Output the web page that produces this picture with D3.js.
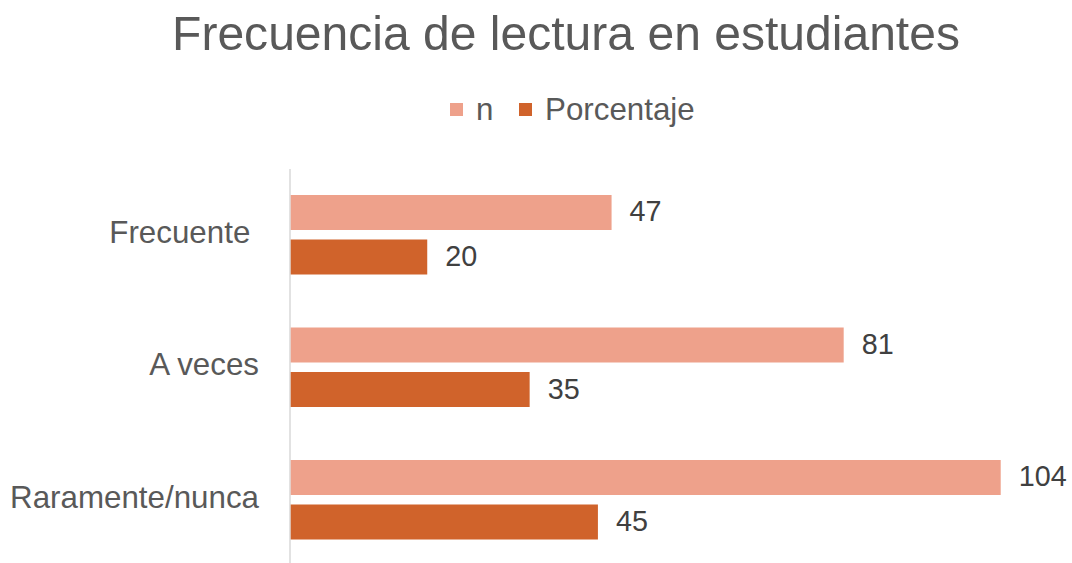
<!DOCTYPE html>
<html><head><meta charset="utf-8">
<script src="https://cdn.jsdelivr.net/npm/d3@7"></script>
<style>
html,body{margin:0;padding:0;background:#fff;}
svg{display:block;font-family:"Liberation Sans",Arial,sans-serif;}
</style></head>
<body>
<svg id="chart" width="1072" height="563"></svg>
<script>
const categories = ["Frecuente ", "A veces", "Raramente/nunca"];
const seriesNames = ["n", "Porcentaje"];
const nValues = [47, 81, 104];
const pctValues = [20, 35, 45];
const colors = ["#EEA18B", "#D0632B"];
const titleText = "Frecuencia de lectura en estudiantes";

const svg = d3.select("#chart");

function fit(sel, targetW, baseSize) {
  sel.attr("font-size", baseSize);
  const w = sel.node().getComputedTextLength();
  sel.attr("font-size", baseSize * targetW / w);
}

// Title
const title = svg.append("text").attr("x", 566).attr("y", 50)
  .attr("text-anchor", "middle").attr("fill", "#595959").text(titleText);
fit(title, 788, 40);

// Scales
const x = d3.scaleLinear().domain([0, 120]).range([290.7, 290.7 + 120 * 6.827]);
const y = d3.scaleBand().domain(categories).range([168.5, 566]).padding(0);
const y1 = d3.scaleBand().domain(seriesNames)
  .range([(y.bandwidth() - 79.5) / 2, (y.bandwidth() + 79.5) / 2])
  .paddingInner(0.2135).paddingOuter(0);

const data = categories.map((c, i) => ({cat: c, vals: [
  {s: "n", v: nValues[i]}, {s: "Porcentaje", v: pctValues[i]}]}));

const color = d3.scaleOrdinal().domain(seriesNames).range(colors);

// Axis line
svg.append("line").attr("x1", 290).attr("x2", 290).attr("y1", 169).attr("y2", 566)
  .attr("stroke", "#d9d9d9").attr("stroke-width", 1.5);

const g = svg.selectAll("g.cat").data(data).join("g").attr("class", "cat")
  .attr("transform", d => `translate(0,${y(d.cat)})`);

g.selectAll("rect").data(d => d.vals).join("rect")
  .attr("x", x(0)).attr("y", d => y1(d.s))
  .attr("width", d => x(d.v) - x(0)).attr("height", y1.bandwidth())
  .attr("fill", d => color(d.s));

const vl = g.selectAll("text.val").data(d => d.vals).join("text").attr("class", "val")
  .attr("x", d => x(d.v) + 18).attr("y", d => y1(d.s) + y1.bandwidth() / 2 + 9)
  .attr("fill", "#404040").attr("font-size", 26).text(d => d.v);
const w104 = vl.filter(d => d.v === 104).node().getComputedTextLength();
vl.attr("font-size", 26 * 48 / w104);

// Category labels
const cl = svg.selectAll("text.cat").data(categories).join("text").attr("class", "cat")
  .attr("x", 259).attr("y", d => y(d) + y.bandwidth() / 2 + 8)
  .attr("text-anchor", "end").attr("fill", "#595959")
  .style("white-space", "pre").text(d => d);
cl.attr("font-size", 26);
const rw = cl.filter(d => d === "Raramente/nunca").node().getComputedTextLength();
const cs = 26 * 249 / rw;
cl.attr("font-size", cs);

// Legend
const leg = svg.append("g");
const items = leg.selectAll("g").data(seriesNames).join("g");
items.append("rect").attr("width", 13).attr("height", 13).attr("y", 103)
  .attr("x", (d, i) => [450, 519][i]).attr("fill", d => color(d));
items.append("text").attr("x", (d, i) => [476, 545][i]).attr("y", 120)
  .attr("fill", "#595959").attr("font-size", cs).text(d => d);
</script>
</body></html>
